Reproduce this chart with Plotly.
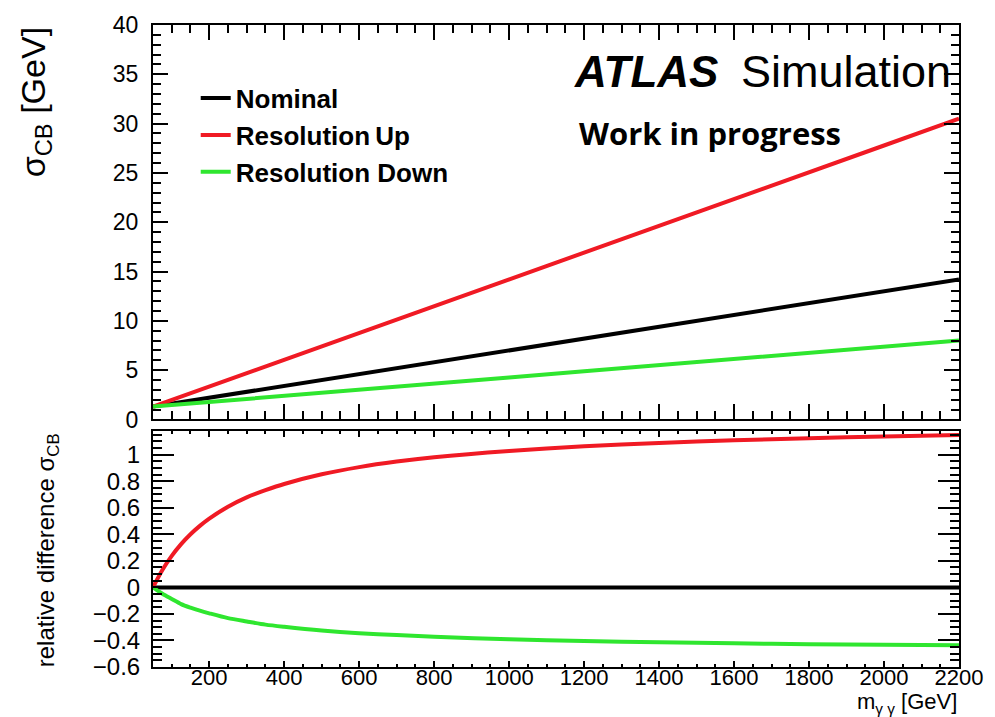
import plotly.graph_objects as go

# Diphoton invariant mass points [GeV]
mass = [50, 75, 100, 125, 150, 175, 200, 250, 300, 350, 400, 500, 600, 700,
        800, 1000, 1200, 1400, 1600, 1800, 2000, 2200]

# Crystal-Ball width sigma_CB [GeV] for each resolution variation
sigma_nominal = [1.30, 1.45, 1.60, 1.75, 1.90, 2.05, 2.20, 2.50, 2.80, 3.10, 3.40,
                 4.00, 4.60, 5.20, 5.80, 7.00, 8.20, 9.40, 10.60, 11.80, 13.00, 14.20]
sigma_up = [1.30, 1.64, 1.98, 2.32, 2.66, 3.00, 3.34, 4.02, 4.70, 5.37, 6.05,
            7.41, 8.77, 10.13, 11.49, 14.20, 16.92, 19.63, 22.35, 25.07, 27.78, 30.50]
sigma_down = [1.30, 1.38, 1.46, 1.53, 1.61, 1.69, 1.77, 1.92, 2.08, 2.23, 2.39,
              2.70, 3.01, 3.33, 3.64, 4.26, 4.88, 5.51, 6.13, 6.75, 7.38, 8.00]

names = ["Nominal", "Resolution\u2009Up", "Resolution Down"]
colors = ["#000000", "#f01a24", "#2fe62f"]
series = [sigma_nominal, sigma_up, sigma_down]

FONT = "Liberation Sans, Arial, Helvetica, sans-serif"

fig = go.Figure()

# upper panel: sigma_CB vs mass
for name, col, vals in zip(names, colors, series):
    fig.add_trace(go.Scatter(
        x=mass, y=vals, mode="lines", name=name, legendgroup=name,
        line=dict(color=col, width=4), xaxis="x", yaxis="y"))

# lower panel: relative difference with respect to nominal
for name, col, vals in zip(names, colors, series):
    rel = [v / n - 1.0 for v, n in zip(vals, sigma_nominal)]
    fig.add_trace(go.Scatter(
        x=mass, y=rel, mode="lines", name=name, legendgroup=name, showlegend=False,
        line=dict(color=col, width=4, shape="spline", smoothing=0.8),
        xaxis="x2", yaxis="y2"))

common_axis = dict(showline=True, linewidth=2, linecolor="black", mirror="ticks",
                   showgrid=False, zeroline=False, ticks="inside", tickcolor="black",
                   tickwidth=1.5)

top_dom = [0.3856, 1.0]
bot_dom = [0.0, 0.3679]

fig.update_layout(
    width=995, height=717,
    margin=dict(l=153, r=30, t=20, b=50),
    paper_bgcolor="white", plot_bgcolor="white",
    font=dict(family=FONT, color="black"),
    showlegend=True,
    legend=dict(x=0.053, y=0.9226, xanchor="left", yanchor="top",
                bgcolor="rgba(0,0,0,0)", tracegroupgap=0,
                font=dict(family=FONT, size=26, weight="bold", color="black")),
    xaxis=dict(common_axis, domain=[0, 1], anchor="y", range=[50, 2200],
               matches="x2", showticklabels=False, tick0=0, dtick=200, ticklen=15,
               minor=dict(ticks="inside", dtick=50, ticklen=8, tickwidth=1.5,
                          tickcolor="black")),
    yaxis=dict(common_axis, domain=top_dom, anchor="x", range=[0, 40],
               tick0=0, dtick=5, ticklen=15, ticklabelstandoff=8,
               tickfont=dict(size=23),
               minor=dict(ticks="inside", dtick=1, ticklen=8, tickwidth=1.5,
                          tickcolor="black")),
    xaxis2=dict(common_axis, domain=[0, 1], anchor="y2", range=[50, 2200],
                tick0=0, dtick=200, ticklen=6, ticklabelstandoff=-10,
                tickfont=dict(size=22),
                minor=dict(ticks="inside", dtick=50, ticklen=3, tickwidth=1.5,
                           tickcolor="black")),
    yaxis2=dict(common_axis, domain=bot_dom, anchor="x2", range=[-0.6, 1.18],
                tick0=0, dtick=0.2, ticklen=21, ticklabelstandoff=6,
                tickfont=dict(size=24),
                minor=dict(ticks="inside", dtick=0.05, ticklen=9, tickwidth=1.5,
                           tickcolor="black")),
)

annotations = [
    # axis titles
    dict(text="\u03c3<sub>CB</sub> [GeV]", xref="paper", yref="paper",
         x=-0.146, y=1.0, xanchor="center", yanchor="top", textangle=-90,
         showarrow=False, font=dict(size=34)),
    dict(text="relative difference \u03c3<sub>CB</sub>", xref="paper", yref="paper",
         x=-0.131, y=bot_dom[1], xanchor="center", yanchor="top", textangle=-90,
         showarrow=False, font=dict(size=24)),
    dict(text="m<sub>\u03b3 \u03b3</sub> [GeV]", xref="paper", yref="paper",
         x=1.0, y=(667 - 703) / 647, xanchor="right", yanchor="middle",
         showarrow=False, font=dict(size=22)),
    # experiment label
    dict(text="<b><i>ATLAS</i></b>", xref="paper", yref="paper",
         x=(575 - 153) / 812, y=(667 - 67) / 647, xanchor="left", yanchor="middle",
         showarrow=False, font=dict(size=44)),
    dict(text="Simulation", xref="paper", yref="paper",
         x=(743 - 153) / 812, y=(667 - 67) / 647, xanchor="left", yanchor="middle",
         showarrow=False, font=dict(size=45)),
    dict(text="<b>Work in progress</b>", xref="paper", yref="paper",
         x=(580 - 153) / 812, y=(667 - 129) / 647, xanchor="left", yanchor="middle",
         showarrow=False, font=dict(family="Open Sans, sans-serif", size=31)),
]
fig.update_layout(annotations=annotations)

fig.write_html("out.html")
